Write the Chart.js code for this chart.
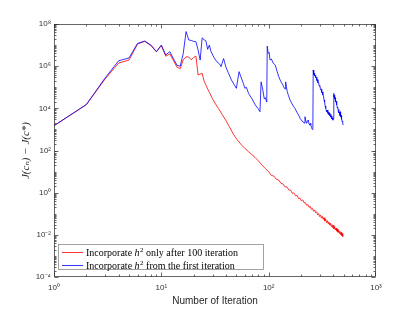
<!DOCTYPE html>
<html>
<head>
<meta charset="utf-8">
<script src="https://cdn.jsdelivr.net/npm/chart.js@4.4.1/dist/chart.umd.min.js"></script>
<style>
  html, body { margin: 0; padding: 0; background: #fff; }
  #plot { display: block; }
</style>
</head>
<body>
<canvas id="plot" width="415" height="312"></canvas>
<script>
// red: h^2 only after 100 iterations
const redIter = [
  1, 2, 3, 4, 5, 6, 7, 8, 9, 10,
  11, 12, 13, 14, 15, 16, 17, 18, 19, 20,
  21, 22, 23, 24, 25, 26, 27, 28, 30, 32,
  34, 37, 40, 43, 47, 51, 56, 60, 65, 70,
  75, 80, 86, 93, 100, 106, 112, 118, 124, 130,
  136, 142, 148, 154, 160, 166, 172, 178, 184, 190,
  196, 202, 208, 214, 220, 226, 232, 238, 244, 250,
  256, 262, 268, 274, 280, 286, 292, 298, 304, 310,
  316, 322, 328, 334, 340, 346, 352, 358, 364, 370,
  376, 382, 388, 394, 400, 406, 412, 418, 424, 430,
  436, 442, 448, 454, 460, 466, 472, 478, 484, 490,
  496
];
const redVal = [
  1.5e3, 1.5e4, 2.5e5, 1.4e6, 1.95e6, 1.12e7, 1.5e7, 9.5e6, 4.8e6, 9.5e6,
  2.95e6, 3.8e6, 1.8e6, 8.9e5, 7.6e5, 2.0e6, 2.8e6, 2.7e6, 2.0e6, 2.6e6,
  3.0e6, 3.8e5, 4.2e5, 4.6e5, 2.0e5, 1.3e5, 8.3e4, 5.8e4, 2.8e4, 1.6e4,
  1.0e4, 5.0e3, 2.6e3, 1.35e3, 5.8e2, 3.2e2, 1.8e2, 1.26e2, 8.7e1, 6.3e1,
  4.6e1, 3.3e1, 2.1e1, 1.4e1, 1.0e1, 6.6, 6.1, 4.3, 4.0, 2.8,
  2.6, 1.87, 1.88, 1.35, 1.32, 0.94, 0.97, 0.71, 0.74, 0.52,
  0.55, 0.41, 0.45, 0.33, 0.34, 0.25, 0.27, 0.20, 0.225, 0.161,
  0.179, 0.131, 0.150, 0.111, 0.124, 8.8e-2, 0.102, 7.4e-2, 8.7e-2, 6.2e-2,
  7.6e-2, 5.4e-2, 6.5e-2, 4.5e-2, 5.4e-2, 3.8e-2, 4.7e-2, 3.4e-2, 4.1e-2, 2.9e-2,
  3.6e-2, 2.5e-2, 3.1e-2, 2.2e-2, 2.8e-2, 1.96e-2, 2.4e-2, 1.69e-2, 2.1e-2, 1.5e-2,
  1.9e-2, 1.33e-2, 1.69e-2, 1.19e-2, 1.48e-2, 1.03e-2, 1.32e-2, 9.3e-3, 1.16e-2, 8.4e-3,
  8.1e-3
];

// blue: h^2 from the first iteration
const blueIter = [
  1, 2, 3, 4, 5, 6, 7, 8, 9, 10,
  11, 12, 13, 14, 15, 16, 17, 18, 19, 20,
  21, 22, 23, 24, 25, 26, 27, 28, 29, 31,
  33, 35, 36, 38, 40, 42, 45, 48, 50, 53,
  55, 58, 60, 62, 65, 70, 75, 80, 83, 85,
  88, 91, 93, 96, 97, 99, 101, 103, 106, 110,
  115, 120, 124, 128, 132, 136, 140, 142, 144, 146,
  149, 153, 158, 165, 170, 176, 183, 190, 196, 203,
  210, 214, 218, 222, 226, 230, 234, 238, 242, 246,
  250, 255, 258, 260, 262, 264, 266, 268, 271, 274,
  277, 281, 284, 288, 292, 296, 300, 304, 308, 312,
  316, 320, 324, 328, 332, 336, 340, 344, 348, 352,
  356, 360, 364, 368, 372, 376, 380, 384, 388, 392,
  396, 400, 403, 406, 409, 412, 416, 420, 424, 428,
  432, 436, 440, 444, 448, 452, 456, 460, 464, 468,
  472, 476, 480, 484, 488, 493
];
const blueVal = [
  1.5e3, 1.5e4, 2.8e5, 1.8e6, 2.45e6, 1.2e7, 1.55e7, 1.0e7, 4.9e6, 1.0e7,
  3.4e6, 4.9e6, 2.2e6, 1.1e6, 1.0e6, 4.0e6, 4.4e7, 1.74e7, 1.66e7, 1.5e7,
  1.45e7, 5.9e6, 1.95e6, 2.2e7, 1.8e7, 1.6e7, 6.3e6, 1.0e7, 5.0e6, 2.5e6,
  1.6e6, 1.26e6, 9.5e5, 2.3e6, 8.9e5, 5.0e5, 2.2e5, 1.26e5, 8.9e4, 5.5e5,
  3.2e5, 1.55e5, 8.9e4, 1.0e5, 5.1e4, 2.8e4, 1.45e4, 9.5e3, 6.9e3, 1.8e5,
  7.9e4, 2.8e4, 3.2e4, 2.0e4, 8.9e6, 4.0e6, 4.5e6, 1.95e6, 2.2e6, 1.4e6,
  1.15e6, 5.6e5, 3.2e5, 2.2e5, 1.6e5, 1.26e5, 8.9e4, 8.3e4, 1.8e5, 1.1e5,
  6.2e4, 4.0e4, 2.5e4, 1.66e4, 1.26e4, 1.0e4, 6.6e3, 4.8e3, 3.4e3, 2.6e3,
  2.3e3, 2.0e3, 4.0e3, 2.5e3, 1.95e3, 2.5e3, 2.8e3, 1.8e3, 1.6e3, 2.0e3,
  1.26e3, 1.0e3, 1.1e3, 6.6e5, 5.0e5, 4.0e5, 4.6e5, 3.5e5, 3.8e5, 2.8e5,
  3.0e5, 2.1e5, 2.3e5, 1.6e5, 1.66e5, 1.12e5, 1.2e5, 7.9e4, 8.3e4, 5.6e4,
  6.0e4, 4.2e4, 4.0e4, 2.5e4, 2.0e4, 1.3e4, 1.0e4, 7.9e3, 6.9e3, 8.3e3,
  5.8e3, 6.6e3, 5.0e3, 5.8e3, 4.4e3, 5.0e3, 3.8e3, 4.3e3, 3.2e3, 3.5e3,
  2.75e3, 3.2e3, 5.1e4, 3.5e4, 4.2e4, 2.8e4, 3.2e4, 2.0e4, 2.2e4, 1.45e4,
  1.6e4, 1.05e4, 1.15e4, 7.9e3, 8.9e3, 6.0e3, 6.6e3, 4.6e3, 6.9e3, 4.0e3,
  4.6e3, 3.0e3, 3.3e3, 2.3e3, 2.5e3, 1.6e3
];

const seriesLabels = [
  'Incorporate h² only after 100 iteration',
  'Incorporate h² from the first iteration'
];
const xTicks = [1, 10, 100, 1000];
const yTicks = [1e-4, 1e-2, 1, 1e2, 1e4, 1e6, 1e8];

const SUP = { '-': '⁻', '0': '⁰', '1': '¹', '2': '²', '3': '³', '4': '⁴',
              '5': '⁵', '6': '⁶', '7': '⁷', '8': '⁸', '9': '⁹' };
const powLabel = v => '10' + String(Math.round(Math.log10(v))).split('').map(c => SUP[c]).join('');

const INK = '#262626';

// box, inward ticks on all four sides, legend in the lower left corner
const framePlugin = {
  id: 'frame',
  afterDraw(chart) {
    const { ctx, chartArea: a, scales: { x, y } } = chart;
    const L = Math.round(a.left) + 0.5, R = Math.round(a.right) - 0.5;
    const T = Math.round(a.top) + 0.5, B = Math.round(a.bottom) - 0.5;
    ctx.save();
    ctx.strokeStyle = INK;
    ctx.lineWidth = 0.7;
    ctx.strokeRect(L, T, R - L, B - T);

    ctx.beginPath();
    for (let e = 0; e < 3; e++) {
      for (let k = 1; k <= 9; k++) {
        const px = Math.round(x.getPixelForValue(k * Math.pow(10, e))) + 0.5;
        const len = k === 1 ? 4 : 2;
        ctx.moveTo(px, B); ctx.lineTo(px, B - len);
        ctx.moveTo(px, T); ctx.lineTo(px, T + len);
      }
    }
    const px3 = Math.round(x.getPixelForValue(1000)) - 0.5;
    ctx.moveTo(px3, B); ctx.lineTo(px3, B - 4);
    ctx.moveTo(px3, T); ctx.lineTo(px3, T + 4);

    for (let e = -4; e < 8; e++) {
      for (let k = 1; k <= 9; k++) {
        const py = Math.round(y.getPixelForValue(k * Math.pow(10, e))) + 0.5;
        const len = (k === 1 && e % 2 === 0) ? 4 : 2;
        ctx.moveTo(L, py); ctx.lineTo(L + len, py);
        ctx.moveTo(R, py); ctx.lineTo(R - len, py);
      }
    }
    const py8 = Math.round(y.getPixelForValue(1e8)) + 0.5;
    ctx.moveTo(L, py8); ctx.lineTo(L + 4, py8);
    ctx.moveTo(R, py8); ctx.lineTo(R - 4, py8);
    ctx.stroke();

    // legend
    const bx = 58.5, by = 244.5, bw = 205, bh = 25;
    ctx.fillStyle = '#fff';
    ctx.fillRect(bx, by, bw, bh);
    ctx.strokeStyle = '#8a8a8a';
    ctx.lineWidth = 0.8;
    ctx.strokeRect(bx, by, bw, bh);

    const rows = [
      { color: '#ff0000', text: seriesLabels[0], y: 252 },
      { color: '#0000ff', text: seriesLabels[1], y: 265 }
    ];
    const roman = '10px "Liberation Serif", "DejaVu Serif", serif';
    const ital = 'italic 10px "Liberation Serif", "DejaVu Serif", serif';
    const small = '7px "Liberation Serif", "DejaVu Serif", serif';
    rows.forEach(r => {
      ctx.strokeStyle = r.color;
      ctx.lineWidth = 0.8;
      ctx.beginPath();
      ctx.moveTo(62, r.y + 0.5); ctx.lineTo(83, r.y + 0.5);
      ctx.stroke();

      const [before, after] = r.text.split('h²');
      ctx.fillStyle = '#000';
      ctx.textBaseline = 'alphabetic';
      let cx = 86;
      const base = r.y + 3.5;
      ctx.font = roman; ctx.fillText(before, cx, base); cx += ctx.measureText(before).width;
      ctx.font = ital; ctx.fillText('h', cx, base); cx += ctx.measureText('h').width + 0.5;
      ctx.font = small; ctx.fillText('2', cx, base - 4); cx += ctx.measureText('2').width;
      ctx.font = roman; ctx.fillText(after, cx, base);
    });
    ctx.restore();
  }
};

const ctx = document.getElementById('plot').getContext('2d');
new Chart(ctx, {
  type: 'line',
  data: {
    datasets: [
      {
        label: seriesLabels[0],
        data: redIter.map((it, i) => ({ x: it, y: redVal[i] })),
        borderColor: '#ff0000',
        borderWidth: 0.8,
        pointRadius: 0,
        tension: 0,
        order: 1
      },
      {
        label: seriesLabels[1],
        data: blueIter.map((it, i) => ({ x: it, y: blueVal[i] })),
        borderColor: '#0000ff',
        borderWidth: 0.8,
        pointRadius: 0,
        tension: 0,
        order: 0
      }
    ]
  },
  options: {
    responsive: false,
    animation: false,
    layout: { padding: { left: 0, right: 39, top: 24, bottom: 0 } },
    plugins: {
      legend: { display: false },
      tooltip: { enabled: false }
    },
    scales: {
      x: {
        type: 'logarithmic',
        min: 1,
        max: 1000,
        grid: { display: false, drawTicks: false },
        border: { display: false },
        afterBuildTicks: s => { s.ticks = xTicks.map(v => ({ value: v })); },
        afterFit: s => { s.height = 35; },
        ticks: {
          callback: v => powLabel(v),
          color: '#333',
          font: { family: '"Liberation Sans", Arial, sans-serif', size: 8 },
          maxRotation: 0,
          autoSkip: false,
          padding: 6
        },
        title: {
          display: true,
          text: 'Number of Iteration',
          color: INK,
          font: { family: '"Liberation Sans", Arial, sans-serif', size: 10 },
          padding: { top: 0, bottom: 5 }
        }
      },
      y: {
        type: 'logarithmic',
        min: 1e-4,
        max: 1e8,
        grid: { display: false, drawTicks: false },
        border: { display: false },
        afterBuildTicks: s => { s.ticks = yTicks.map(v => ({ value: v })); },
        afterFit: s => { s.width = 54; },
        ticks: {
          callback: v => powLabel(v),
          color: '#333',
          font: { family: '"Liberation Sans", Arial, sans-serif', size: 8 },
          autoSkip: false,
          padding: 3
        },
        title: {
          display: true,
          text: 'J(cₙ) − J(c*)',
          color: INK,
          font: { family: '"Liberation Serif", "DejaVu Serif", serif', size: 11, style: 'italic' },
          padding: { top: 20, bottom: 0 }
        }
      }
    }
  },
  plugins: [framePlugin]
});
</script>
</body>
</html>
